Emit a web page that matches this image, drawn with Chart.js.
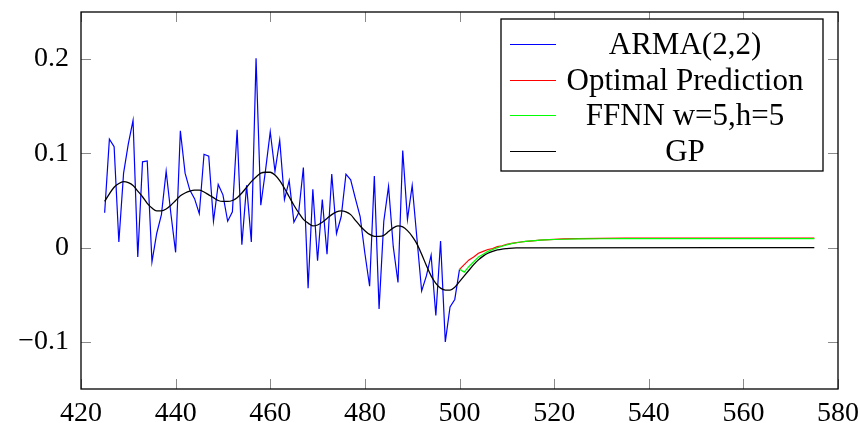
<!DOCTYPE html>
<html>
<head>
<meta charset="utf-8">
<script src="https://cdn.jsdelivr.net/npm/chart.js@4"></script>
<style>
  html, body { margin: 0; padding: 0; background: #fff; }
  #wrap { width: 860px; height: 423px; }
</style>
</head>
<body>
<div id="wrap"><canvas id="chart" width="860" height="423"></canvas></div>
<script>
// series names, in legend order
const seriesNames = ['ARMA(2,2)', 'Optimal Prediction', 'FFNN w=5,h=5', 'GP'];
const seriesColors = ['#0000ff', '#ff0000', '#00ff00', '#000000'];

// ARMA(2,2) sample, one value per step starting at x = 425
const armaStart = 425;
const armaValues = [
  0.037, 0.115, 0.107, 0.006, 0.079, 0.110, 0.135, -0.010, 0.091, 0.092,
  -0.015, 0.015, 0.035, 0.081, 0.036, -0.005, 0.124, 0.079, 0.061, 0.052,
  0.036, 0.099, 0.097, 0.028, 0.067, 0.056, 0.028, 0.038, 0.125, 0.003,
  0.066, 0.006, 0.201, 0.045, 0.082, 0.123, 0.081, 0.114, 0.051, 0.071,
  0.027, 0.037, 0.085, -0.043, 0.062, -0.014, 0.051, -0.007, 0.078, 0.015,
  0.033, 0.078, 0.072, 0.052, 0.033, -0.006, -0.041, 0.076, -0.065, 0.028,
  0.065, 0.001, -0.037, 0.103, 0.030, 0.066, 0.010, -0.046, -0.030, -0.008,
  -0.072, 0.007, -0.100, -0.063, -0.055, -0.023
];

// predictions after x = 500
const predX = [500, 501, 502, 503, 504, 505, 506, 507, 508, 509, 510, 511, 512, 513, 514, 515, 516, 517, 518, 520, 522, 525, 530, 535, 575];
const optimalValues = [-0.023, -0.018, -0.013, -0.010, -0.006, -0.004, -0.002, -0.001, 0.001, 0.002, 0.0035, 0.0045, 0.0053, 0.006, 0.0066, 0.007, 0.0075, 0.008, 0.0083, 0.0088, 0.0092, 0.0096, 0.0099, 0.010, 0.010];
const ffnnValues = [-0.023, -0.026, -0.020, -0.015, -0.010, -0.007, -0.004, -0.002, 0.000, 0.0015, 0.003, 0.0042, 0.0052, 0.006, 0.0066, 0.0071, 0.0075, 0.0079, 0.0082, 0.0086, 0.0089, 0.0092, 0.0094, 0.0095, 0.0095];

// GP mean, one value per step from x = 425 to 512, then flat to 575
const gpX = [
  425, 426, 427, 428, 429, 430, 431, 432, 433, 434, 435, 436, 437, 438, 439, 440,
  441, 442, 443, 444, 445, 446, 447, 448, 449, 450, 451, 452, 453, 454, 455, 456,
  457, 458, 459, 460, 461, 462, 463, 464, 465, 466, 467, 468, 469, 470, 471, 472,
  473, 474, 475, 476, 477, 478, 479, 480, 481, 482, 483, 484, 485, 486, 487, 488,
  489, 490, 491, 492, 493, 494, 495, 496, 497, 498, 499, 500, 501, 502, 503, 504,
  505, 506, 507, 508, 509, 510, 512, 575
];
const gpValues = [
  0.049, 0.057, 0.064, 0.068, 0.070, 0.069, 0.066, 0.060, 0.054, 0.047, 0.042, 0.039, 0.039, 0.041, 0.045, 0.050,
  0.055, 0.058, 0.060, 0.061, 0.061, 0.059, 0.056, 0.053, 0.050, 0.049, 0.049, 0.050, 0.053, 0.058, 0.064, 0.070,
  0.075, 0.079, 0.080, 0.080, 0.077, 0.071, 0.063, 0.054, 0.045, 0.037, 0.030, 0.026, 0.023, 0.024, 0.027, 0.031,
  0.035, 0.038, 0.039, 0.038, 0.035, 0.029, 0.023, 0.018, 0.014, 0.012, 0.012, 0.013, 0.017, 0.021, 0.023, 0.022,
  0.018, 0.012, 0.004, -0.007, -0.019, -0.030, -0.038, -0.043, -0.045, -0.045, -0.042, -0.036, -0.030, -0.024, -0.018, -0.013,
  -0.009, -0.006, -0.004, -0.0025, -0.0015, -0.001, -0.0003, 0
];

const xTicks = [420, 440, 460, 480, 500, 520, 540, 560, 580];
const yTicks = [-0.1, 0, 0.1, 0.2];

const FONT = "'Liberation Serif', 'Times New Roman', serif";

function pairs(xs, ys) {
  return ys.map((y, i) => ({ x: xs[i], y: y }));
}

const armaData = armaValues.map((y, i) => ({ x: armaStart + i, y: y }));

// frame with inward ticks on all four sides
const frameTicks = {
  id: 'frameTicks',
  afterDatasetsDraw(chart) {
    const ctx = chart.ctx;
    const a = chart.chartArea;
    const xs = chart.scales.x, ys = chart.scales.y;
    const len = 10;
    ctx.save();
    ctx.strokeStyle = '#8a8a8a';
    ctx.lineWidth = 1;
    ctx.beginPath();
    xTicks.forEach(v => {
      const px = Math.round(xs.getPixelForValue(v)) + 0.5;
      ctx.moveTo(px, a.bottom); ctx.lineTo(px, a.bottom - len);
      ctx.moveTo(px, a.top); ctx.lineTo(px, a.top + len);
    });
    yTicks.forEach(v => {
      const py = Math.round(ys.getPixelForValue(v)) + 0.5;
      ctx.moveTo(a.left, py); ctx.lineTo(a.left + len, py);
      ctx.moveTo(a.right, py); ctx.lineTo(a.right - len, py);
    });
    ctx.stroke();
    ctx.strokeStyle = '#000';
    ctx.lineWidth = 1.3;
    ctx.strokeRect(a.left, a.top, a.right - a.left, a.bottom - a.top);
    ctx.restore();
  }
};

// boxed legend in the upper right, text centred like pgfplots
const boxLegend = {
  id: 'boxLegend',
  afterDraw(chart) {
    const ctx = chart.ctx;
    const a = chart.chartArea;
    const right = a.right - 15;
    const left = right - 322;
    const top = a.top + 7;
    const rowH = 35.5;
    const height = 152;
    ctx.save();
    ctx.fillStyle = '#fff';
    ctx.fillRect(left, top, right - left, height);
    ctx.strokeStyle = '#000';
    ctx.lineWidth = 1.3;
    ctx.strokeRect(left, top, right - left, height);
    ctx.font = '31px ' + FONT;
    ctx.textAlign = 'center';
    ctx.textBaseline = 'middle';
    chart.data.datasets.forEach((ds, i) => {
      const cy = Math.round(top + 25 + i * rowH) + 0.5;
      ctx.strokeStyle = ds.borderColor;
      ctx.lineWidth = 1;
      ctx.beginPath();
      ctx.moveTo(left + 9, cy);
      ctx.lineTo(left + 55, cy);
      ctx.stroke();
      ctx.fillStyle = '#000';
      ctx.fillText(ds.label, (left + right) / 2 + 23, cy + 1);
    });
    ctx.restore();
  }
};

new Chart(document.getElementById('chart'), {
  type: 'line',
  data: {
    datasets: [
      { label: seriesNames[0], data: armaData, borderColor: seriesColors[0], borderWidth: 1.2, order: 4 },
      { label: seriesNames[1], data: pairs(predX, optimalValues), borderColor: seriesColors[1], borderWidth: 1.2, order: 3 },
      { label: seriesNames[2], data: pairs(predX, ffnnValues), borderColor: seriesColors[2], borderWidth: 1.2, order: 2 },
      { label: seriesNames[3], data: pairs(gpX, gpValues), borderColor: seriesColors[3], borderWidth: 1.3, order: 1, cubicInterpolationMode: 'monotone' }
    ]
  },
  options: {
    responsive: false,
    devicePixelRatio: 1,
    animation: false,
    layout: { padding: { left: 0, right: 22, top: 12, bottom: 0 } },
    elements: { point: { radius: 0 }, line: { tension: 0, fill: false } },
    plugins: { legend: { display: false }, tooltip: { enabled: false } },
    scales: {
      x: {
        type: 'linear',
        min: 420,
        max: 580,
        grid: { display: false, drawTicks: false },
        border: { display: false },
        afterBuildTicks: s => { s.ticks = xTicks.map(v => ({ value: v })); },
        afterFit: s => { s.height = 34; s.paddingLeft = 0; s.paddingRight = 0; },
        ticks: { color: '#000', padding: 8, maxRotation: 0, autoSkip: false, font: { family: FONT, size: 28 } }
      },
      y: {
        min: -0.15,
        max: 0.25,
        grid: { display: false, drawTicks: false },
        border: { display: false },
        afterBuildTicks: s => { s.ticks = yTicks.map(v => ({ value: v })); },
        afterFit: s => { s.width = 81; s.paddingTop = 0; s.paddingBottom = 0; },
        ticks: {
          color: '#000',
          padding: 12,
          font: { family: FONT, size: 28 },
          callback: v => (v < 0 ? '\u2212' + Math.abs(v) : String(v))
        }
      }
    }
  },
  plugins: [frameTicks, boxLegend]
});
</script>
</body>
</html>
